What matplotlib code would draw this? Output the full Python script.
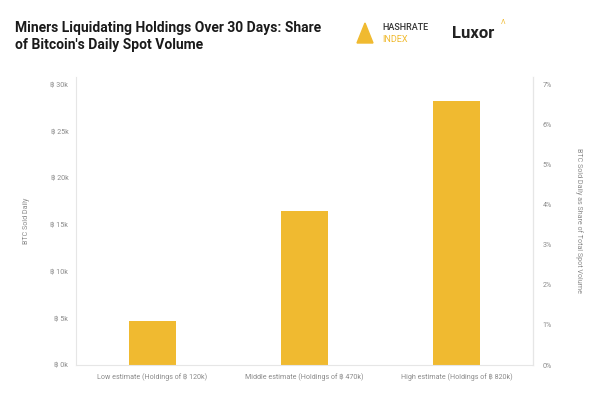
import numpy as np
import matplotlib.pyplot as plt
from matplotlib.ticker import FuncFormatter
from matplotlib.patches import Polygon

# Data
categories = ['Low estimate (Holdings of \u0e3f 120k)',
              'Middle estimate (Holdings of \u0e3f 470k)',
              'High estimate (Holdings of \u0e3f 820k)']
btc_sold_daily = [4.75, 16.45, 28.2]  # thousands of BTC
left_ticks = [0, 5, 10, 15, 20, 25, 30]
right_ticks = [0, 1, 2, 3, 4, 5, 6, 7]

bar_color = '#F0BA30'
grey = '#8a8a8a'
spine_color = '#e6e6e6'

plt.rcParams['font.family'] = ['Roboto', 'DejaVu Sans']

fig = plt.figure(figsize=(6, 3.96), dpi=100)
ax = fig.add_axes([76 / 600, 1 - 365 / 396, (533 - 76) / 600, (365 - 77) / 396])

x = np.arange(len(categories))
ax.bar(x, btc_sold_daily, width=0.31, color=bar_color)
ax.set_xlim(-0.5, 2.5)
ax.set_ylim(0, 30.8)
ax.set_yticks(left_ticks)
ax.yaxis.set_major_formatter(FuncFormatter(lambda v, p: f'\u0e3f {v:.0f}k'))
ax.set_xticks(x)
ax.set_xticklabels(categories)
ax.tick_params(axis='both', length=0, labelsize=5.1, colors=grey)
ax.tick_params(axis='x', pad=6)
ax.tick_params(axis='y', pad=5.5)
ax.set_ylabel('BTC Sold Daily', fontsize=5.1, color=grey, labelpad=15)

for s in ['top']:
    ax.spines[s].set_visible(False)
for s in ['left', 'right', 'bottom']:
    ax.spines[s].set_color(spine_color)
    ax.spines[s].set_linewidth(0.8)

ax2 = ax.twinx()
ax2.set_ylim(0, 7 * 30.8 / 30)
ax2.set_yticks(right_ticks)
ax2.yaxis.set_major_formatter(FuncFormatter(lambda v, p: f'{v:.0f}%'))
ax2.tick_params(axis='y', length=0, labelsize=5.1, colors=grey, pad=7)
ax2.set_ylabel('BTC Sold Daily as Share of Total Spot Volume', fontsize=5.1,
               color=grey, rotation=-90, labelpad=22)
for s in ['top', 'left', 'bottom']:
    ax2.spines[s].set_visible(False)
ax2.spines['right'].set_color(spine_color)

# Title
fig.text(15 / 600, 1 - 21 / 396, "Miners Liquidating Holdings Over 30 Days: Share\nof Bitcoin's Daily Spot Volume",
         fontsize=10, fontweight='bold', color='#1a1a1a', va='top', ha='left', linespacing=1.3)

# Logos
tri = Polygon([[357 / 600, 1 - 43 / 396], [365 / 600, 1 - 23 / 396], [373 / 600, 1 - 43 / 396]],
              closed=True, transform=fig.transFigure, color='#F0BA30')
fig.patches.append(tri)
fig.text(382 / 600, 1 - 27 / 396, 'HASHRATE', fontsize=6.5, fontweight='medium', color='#333333',
         va='center', ha='left')
fig.text(382 / 600, 1 - 40 / 396, 'INDEX', fontsize=6.5, color='#F0BA30', va='center', ha='left')
fig.text(452 / 600, 1 - 33 / 396, 'Luxor', fontsize=12, fontweight='bold', color='#222222',
         va='center', ha='left')
fig.text(501 / 600, 1 - 23 / 396, '\u039b', fontsize=5, color='#F0BA30', va='center', ha='left')

fig.savefig('out.png', dpi=100, facecolor='white')
